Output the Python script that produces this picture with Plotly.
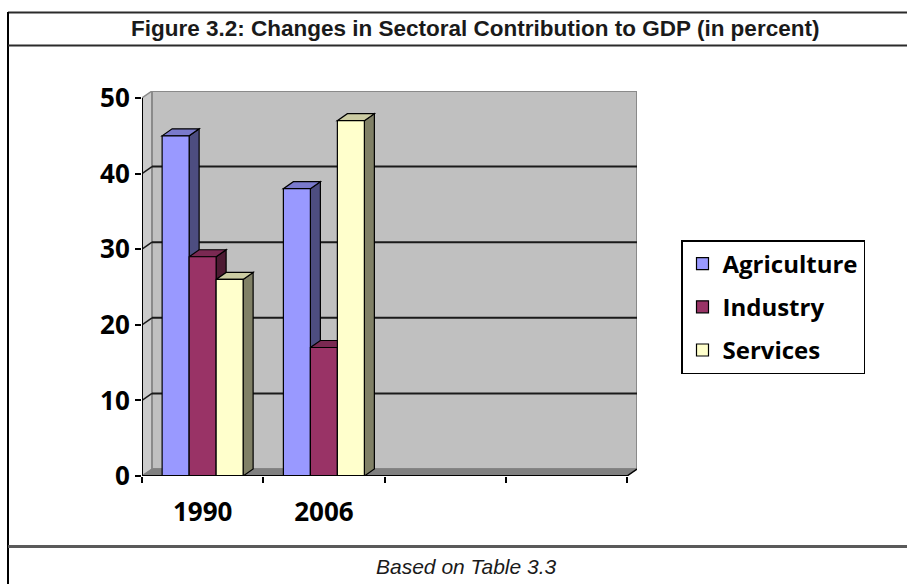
import plotly.graph_objects as go

# ---------------- data ----------------
categories = ["1990", "2006", "", ""]
sectors = ["Agriculture", "Industry", "Services"]
agriculture = [45, 38, None, None]
industry = [29, 17, None, None]
services = [26, 47, None, None]
y_ticks = [0, 10, 20, 30, 40, 50]

# ---------------- style ----------------
front_colors = ["#9999FF", "#993366", "#FFFFCC"]
top_colors = ["#7A7ACC", "#7A2952", "#CCCCA3"]
side_colors = ["#4D4D80", "#4D1A33", "#808066"]

W, H = 907, 584
L, R, T, B = 142, 270, 91, 108
PW, PH = W - L - R, H - T - B
PX_PER_CAT = 121.25
PX_PER_UNIT = 7.56
DX = 10 / PX_PER_CAT      # depth offset in category units
DY = 7 / PX_PER_UNIT      # depth offset in value units
XMIN = -0.5
XMAX = XMIN + PW / PX_PER_CAT
YMAX = PH / PX_PER_UNIT
NCAT = len(categories)
GROUP_W = 0.668
BAR_W = GROUP_W / len(sectors)


def px_x(p):
    return (p - L) / PW


def px_y(p):
    return (H - B - p) / PH


series = [agriculture, industry, services]
xs = list(range(NCAT))

fig = go.Figure()
for k, (name, vals) in enumerate(zip(sectors, series)):
    fig.add_trace(go.Bar(
        x=xs, y=vals, name=name,
        width=BAR_W, offset=-GROUP_W / 2 + k * BAR_W,
        marker=dict(color=front_colors[k], line=dict(color="black", width=1.2)),
        legendgroup=name, hoverinfo="x+y+name",
    ))

shapes = []
x_front_l, x_front_r = XMIN, XMIN + NCAT
# walls
shapes.append(dict(type="path", layer="below",
                   path=f"M{x_front_l},0 L{x_front_l},{y_ticks[-1]} L{x_front_l+DX},{y_ticks[-1]+DY} L{x_front_l+DX},{DY} Z",
                   fillcolor="#CBCBCB", line=dict(color="#8A8A8A", width=1.5)))
shapes.append(dict(type="rect", layer="below", x0=x_front_l + DX, x1=x_front_r + DX, y0=DY, y1=y_ticks[-1] + DY,
                   fillcolor="#C0C0C0", line=dict(color="#8A8A8A", width=2)))
shapes.append(dict(type="path", layer="below",
                   path=f"M{x_front_l},0 L{x_front_r},0 L{x_front_r+DX},{DY} L{x_front_l+DX},{DY} Z",
                   fillcolor="#808080", line=dict(color="#808080", width=1)))
# gridlines on back wall and side wall
for v in y_ticks[1:-1]:
    shapes.append(dict(type="line", layer="below", x0=x_front_l + DX, x1=x_front_r + DX, y0=v + DY, y1=v + DY,
                       line=dict(color="#1A1A1A", width=2)))
    shapes.append(dict(type="line", layer="below", x0=x_front_l, x1=x_front_l + DX, y0=v, y1=v + DY,
                       line=dict(color="#1A1A1A", width=1.5)))
# front axis lines
shapes.append(dict(type="line", layer="above", x0=x_front_l, x1=x_front_l, y0=0, y1=y_ticks[-1],
                   line=dict(color="black", width=2)))
shapes.append(dict(type="line", layer="above", x0=x_front_l, x1=x_front_r, y0=0, y1=0,
                   line=dict(color="black", width=2)))
shapes.append(dict(type="line", layer="above", x0=x_front_r, x1=x_front_r + DX, y0=0, y1=DY,
                   line=dict(color="black", width=1.5)))

# 3D tops and sides of bars (painter's order left to right)
for i in xs:
    for k, vals in enumerate(series):
        v = vals[i]
        if v is None:
            continue
        x0 = i - GROUP_W / 2 + k * BAR_W
        x1 = x0 + BAR_W
        shapes.append(dict(type="path", layer="between",
                           path=f"M{x1},0 L{x1},{v} L{x1+DX},{v+DY} L{x1+DX},{DY} Z",
                           fillcolor=side_colors[k], line=dict(color="black", width=1.2)))
        shapes.append(dict(type="path", layer="between",
                           path=f"M{x0},{v} L{x1},{v} L{x1+DX},{v+DY} L{x0+DX},{v+DY} Z",
                           fillcolor=top_colors[k], line=dict(color="black", width=1.2)))

# frame lines of the figure box
frame = "#2B2B2B"
shapes.append(dict(type="line", xref="paper", yref="paper", x0=px_x(8), x1=px_x(960), y0=px_y(12.5), y1=px_y(12.5),
                   line=dict(color=frame, width=2)))
shapes.append(dict(type="line", xref="paper", yref="paper", x0=px_x(8), x1=px_x(8), y0=px_y(12), y1=px_y(600),
                   line=dict(color="black", width=2)))
shapes.append(dict(type="line", xref="paper", yref="paper", x0=px_x(8), x1=px_x(960), y0=px_y(45.5), y1=px_y(45.5),
                   line=dict(color=frame, width=2)))
shapes.append(dict(type="line", xref="paper", yref="paper", x0=px_x(8), x1=px_x(960), y0=px_y(546.5), y1=px_y(546.5),
                   line=dict(color="#5A5A5A", width=3)))

annotations = [
    dict(text="<b>Figure 3.2: Changes in Sectoral Contribution to GDP (in percent)</b>",
         xref="paper", yref="paper", x=px_x(475), y=px_y(29), xanchor="center", yanchor="middle",
         showarrow=False, font=dict(family="Liberation Sans, Arial", size=22.5, color="#1A1A1A")),
    dict(text="<i>Based on Table 3.3</i>",
         xref="paper", yref="paper", x=px_x(466), y=px_y(566), xanchor="center", yanchor="middle",
         showarrow=False, font=dict(family="Liberation Sans, Arial", size=21, color="#1A1A1A")),
]

axis_font = dict(family="Open Sans, Noto Sans, sans-serif", size=26, color="black", weight="bold")

fig.update_layout(
    width=W, height=H,
    margin=dict(l=L, r=R, t=T, b=B, pad=0),
    paper_bgcolor="white", plot_bgcolor="rgba(0,0,0,0)",
    barmode="overlay",
    shapes=shapes, annotations=annotations,
    showlegend=True,
    legend=dict(x=px_x(681), y=px_y(240), xanchor="left", yanchor="top",
                bordercolor="black", borderwidth=1.5, bgcolor="white",
                font=dict(family="Open Sans, Noto Sans, sans-serif", size=24, color="black", weight="bold"),
                tracegroupgap=9, itemwidth=30),
    xaxis=dict(range=[XMIN, XMAX], tickvals=xs, ticktext=categories, ticks="", showgrid=False,
               zeroline=False, showline=False, tickfont=axis_font, ticklabelstandoff=18,
               minor=dict(tickmode="array", tickvals=[XMIN + j for j in range(NCAT + 1)],
                          ticks="outside", ticklen=6, tickwidth=2, tickcolor="black", showgrid=False)),
    yaxis=dict(range=[0, YMAX], tickvals=y_ticks, ticks="outside", ticklen=6, tickwidth=2,
               tickcolor="black", showgrid=False, zeroline=False, showline=False, tickfont=axis_font),
)

fig.write_html("out.html")
